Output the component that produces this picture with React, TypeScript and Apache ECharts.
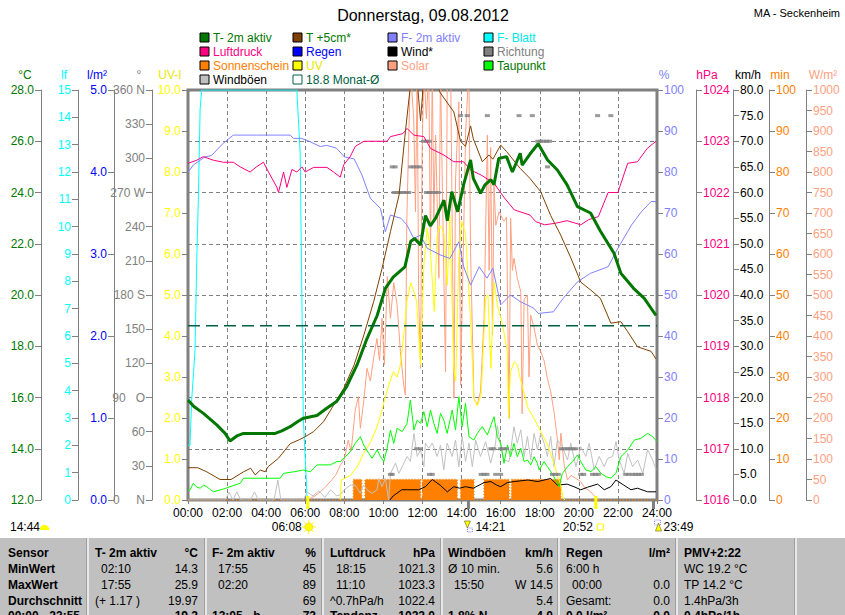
import React, { useEffect, useRef } from "react";
import * as echarts from "echarts";

const FONT = '"Liberation Sans", Arial, Helvetica, sans-serif';

// ---------------- data: [hour of day, value] ----------------
const t2m = [
  [0, 15.9], [0.3, 15.65], [0.79, 15.38], [1.47, 14.93], [1.9, 14.6], [2.15, 14.3], [2.5, 14.5], [2.84, 14.6],
  [3.5, 14.6], [4.46, 14.6], [4.8, 14.7], [5.23, 14.86], [5.6, 15.05], [5.9, 15.19], [6.6, 15.3], [7.1, 15.58],
  [7.6, 15.84], [8.1, 16.4], [8.65, 17.27], [9.16, 18.3], [9.68, 19.2], [10.1, 20.26], [10.5, 20.7], [11.1, 21.1],
  [11.4, 22.1], [11.6, 22.2], [11.9, 21.95], [12.15, 23.1], [12.4, 22.7], [12.67, 23.0], [13.1, 23.7], [13.27, 22.9],
  [13.5, 24.03], [13.8, 23.25], [14.1, 24.3], [14.46, 25.27], [14.6, 24.55], [14.97, 23.97], [15.2, 24.3],
  [15.5, 24.5], [15.66, 24.3], [15.9, 25.33], [16.3, 25.4], [16.6, 24.8], [17.0, 25.53], [17.1, 25.07],
  [17.5, 25.5], [17.92, 25.9], [18.4, 25.27], [18.9, 24.88], [19.4, 24.3], [19.93, 23.45], [20.6, 23.2],
  [21.1, 22.5], [21.8, 21.63], [22.15, 20.85], [22.8, 20.26], [23.35, 19.87], [23.95, 19.2],
];

const t5cm = [
  [0, 13.26], [0.5, 13.26], [0.96, 13.1], [1.64, 12.8], [2.2, 12.8], [2.84, 13.1], [3.2, 13.24], [3.44, 12.98],
  [3.7, 13.17], [3.95, 13.1], [4.1, 13.3], [4.63, 13.63], [5.23, 14.2], [5.66, 14.34], [6.0, 14.47], [6.43, 14.67],
  [6.94, 15.06], [7.45, 15.7], [7.97, 16.36], [8.5, 17.27], [9.0, 18.44], [9.5, 19.74], [9.93, 21.04],
  [10.36, 22.47], [10.8, 23.9], [11.1, 26.2], [11.4, 28.3], [11.7, 28.6], [11.9, 26.8], [12.1, 28.8], [12.4, 29.0],
  [12.6, 28.6], [12.9, 27.9], [13.6, 27.15], [13.95, 26.0], [14.2, 25.8], [14.46, 26.6], [14.6, 26.1],
  [15.06, 25.2], [15.4, 25.46], [15.6, 25.3], [16.0, 25.85], [16.3, 25.6], [17.0, 24.94], [17.5, 24.55],
  [18.05, 24.03], [18.56, 23.1], [19.07, 22.34], [19.6, 21.43], [20.1, 20.5], [20.6, 20.2], [21.1, 19.87],
  [21.64, 18.9], [22.15, 18.96], [22.5, 18.57], [23.0, 17.98], [23.7, 17.8], [23.95, 17.5],
];

const humidity = [
  [0, 79.9], [0.27, 81.7], [0.87, 83.7], [1.2, 84], [1.8, 87], [2.32, 89], [3.5, 89], [5.23, 89], [5.4, 88.2],
  [5.8, 88.2], [6.2, 87.5], [6.5, 86.8], [6.77, 86.2], [7.1, 86.5], [7.6, 85.8], [8.0, 83.7], [8.5, 83.2],
  [8.9, 79.3], [9.33, 73.6], [9.85, 71.1], [10.1, 65.4], [10.36, 69.5], [10.9, 68.7], [11.2, 67.1], [11.55, 63.8],
  [11.9, 64.6], [12.24, 61.4], [12.9, 59.8], [13.4, 58.9], [13.86, 63], [14.1, 57], [14.46, 52.4], [14.9, 56.9],
  [15.3, 54.1], [15.6, 56.5], [16.0, 47.6], [16.5, 50], [17.0, 48.4], [17.7, 46.75], [17.92, 45.5], [18.7, 45.9],
  [19.2, 49.2], [19.93, 53.2], [20.6, 55.3], [21.5, 56.9], [22.0, 61.4], [22.7, 67.1], [23.2, 70.3], [23.7, 72.8],
  [23.95, 72.8],
];

const leafWet = [
  [0, 2.0], [0.1, 2.0], [0.19, 3.66], [0.36, 5.5], [0.45, 8.8], [0.53, 11], [0.62, 14.3], [0.7, 15],
  [5.57, 15], [5.74, 12.7], [5.9, 3], [6.1, 0],
];

const pressure = [
  [0, 1022.57], [0.45, 1022.63], [0.78, 1022.7], [1.3, 1022.63], [1.81, 1022.59], [2.32, 1022.59], [2.67, 1022.5],
  [3.18, 1022.4], [3.5, 1022.5], [3.86, 1022.59], [4.12, 1022.4], [4.55, 1022.1], [4.63, 1022.0], [4.89, 1022.4],
  [5.06, 1022.1], [5.32, 1022.45], [5.57, 1022.4], [5.83, 1022.5], [6.0, 1022.4], [6.43, 1022.49], [7.11, 1022.49],
  [7.45, 1022.4], [7.79, 1022.3], [7.97, 1022.54], [8.3, 1022.7], [8.56, 1022.9], [9.0, 1023.0], [10.19, 1023.0],
  [10.36, 1023.09], [11.0, 1023.15], [11.21, 1023.25], [11.55, 1023.12], [12.07, 1023.09], [12.41, 1022.86],
  [13.1, 1022.73], [13.6, 1022.6], [14.1, 1022.6], [14.46, 1022.44], [15.0, 1022.34], [15.66, 1022.18],
  [16.2, 1021.89], [16.7, 1021.66], [17.5, 1021.56], [17.8, 1021.43], [18.25, 1021.37], [18.8, 1021.4],
  [19.4, 1021.45], [20.1, 1021.37], [20.5, 1021.47], [21.0, 1021.53], [21.5, 1022.0], [22.0, 1022.0],
  [22.5, 1022.57], [23.0, 1022.6], [23.5, 1022.86], [23.95, 1023.0],
];

const dewPoint = [
  [0, 12.39], [0.1, 12.39], [0.27, 12.65], [0.45, 12.5], [0.62, 12.46], [0.8, 12.58], [0.96, 12.52], [1.15, 12.4],
  [1.3, 12.32], [1.64, 12.39], [1.9, 12.45], [2.15, 12.52], [2.67, 12.65], [2.84, 12.85], [4.72, 12.85],
  [4.89, 13.04], [5.4, 13.1], [5.91, 13.17], [6.26, 13.1], [6.6, 13.37], [7.28, 13.37], [7.62, 13.5],
  [7.79, 13.5], [8.05, 13.69], [8.31, 13.89], [8.56, 14.21], [8.82, 14.47], [8.99, 14.15], [9.25, 13.82],
  [9.42, 13.63], [9.68, 13.95], [9.85, 13.69], [10.02, 13.5], [10.19, 14.02], [10.36, 14.73], [10.53, 14.21],
  [10.7, 14.8], [10.96, 14.67], [11.21, 14.99], [11.38, 15.9], [11.56, 14.73], [11.73, 15.12], [11.9, 14.99],
  [12.07, 15.45], [12.24, 14.86], [12.41, 15.51], [12.58, 14.99], [12.75, 14.6], [12.92, 15.38], [13.09, 15.12],
  [13.26, 14.6], [13.52, 15.51], [13.69, 14.73], [13.86, 16.03], [14.03, 14.86], [14.2, 15.77], [14.38, 14.47],
  [14.63, 14.34], [14.8, 14.6], [15.06, 14.86], [15.32, 14.54], [15.66, 15.25], [15.83, 14.47], [16.0, 14.21],
  [16.17, 13.43], [16.35, 14.15], [16.51, 13.69], [16.68, 14.21], [16.85, 13.69], [17.03, 14.02], [17.2, 13.5],
  [17.37, 13.56], [17.54, 13.37], [17.71, 13.69], [17.88, 13.43], [17.97, 13.17], [18.22, 13.5], [18.39, 13.3],
  [18.56, 13.11], [18.82, 12.78], [18.99, 12.52], [19.16, 13.04], [19.42, 13.3], [19.68, 13.5], [19.93, 13.76],
  [20.1, 13.5], [20.36, 13.17], [20.62, 13.11], [20.87, 13.3], [21.13, 13.04], [21.39, 12.91], [21.64, 12.85],
  [21.9, 13.04], [22.15, 13.69], [22.5, 13.95], [22.84, 14.34], [23.18, 14.41], [23.52, 14.6], [23.78, 14.47],
  [24.0, 14.28],
];

const gusts = [
  [0, 0], [1.9, 0], [2.1, 1.5], [2.3, 0], [2.5, 1.6], [2.7, 0], [3.2, 0], [3.4, 1.6], [3.6, 0], [4.4, 0], [4.6, 3.9],
  [4.75, 0], [5.9, 0], [6.1, 1.5], [6.4, 0.8], [6.7, 1.8], [7.0, 0.5], [7.3, 2.0], [7.6, 0.8], [7.79, 1.0],
  [8.0, 2.0], [8.31, 2.9], [8.56, 2.9], [8.82, 1.3], [8.99, 2.9], [9.16, 2.0], [9.42, 1.3], [9.68, 2.0],
  [9.76, 4.2], [9.93, 2.6], [10.1, 4.2], [10.27, 0], [10.36, 5.2], [10.62, 7.2], [10.79, 5.2], [10.96, 6.5],
  [11.21, 8.5], [11.38, 7.5], [11.56, 13.0], [11.73, 8.5], [11.9, 9.8], [12.07, 6.5], [12.15, 11.1],
  [12.32, 10.1], [12.5, 11.1], [12.75, 8.5], [12.92, 10.7], [13.09, 5.9], [13.26, 11.1], [13.52, 8.5],
  [13.69, 11.7], [13.86, 6.5], [14.03, 12.4], [14.2, 7.5], [14.38, 11.1], [14.55, 6.5], [14.72, 11.7],
  [14.97, 8.5], [15.23, 11.4], [15.49, 7.2], [15.74, 11.1], [15.83, 14.5], [16.0, 10.7], [16.17, 7.8],
  [16.43, 7.5], [16.68, 14.3], [16.85, 11.1], [17.03, 13.7], [17.2, 8.5], [17.37, 12.4], [17.54, 7.8],
  [17.71, 13.0], [17.88, 9.8], [18.05, 13.0], [18.22, 11.1], [18.39, 8.5], [18.56, 12.4], [18.73, 6.5],
  [18.9, 11.7], [19.16, 10.4], [19.42, 7.8], [19.59, 11.1], [19.85, 6.5], [20.1, 10.4], [20.36, 8.5],
  [20.53, 11.1], [20.79, 5.9], [21.04, 8.5], [21.3, 6.5], [21.47, 8.1], [21.73, 8.5], [21.9, 11.4], [22.07, 7.8],
  [22.32, 5.2], [22.5, 9.1], [22.75, 6.5], [23.01, 7.8], [23.27, 5.2], [23.52, 9.8], [23.78, 7.8], [23.95, 5.9],
];

const wind = [
  [10.33, 0], [10.5, 0.8], [10.94, 2.0], [11.8, 2.0], [12.15, 2.6], [12.5, 4.0], [12.9, 2.9], [13.27, 1.6],
  [13.6, 2.6], [13.9, 2.3], [14.2, 2.6], [14.6, 2.3], [15.15, 3.4], [15.5, 3.6], [15.8, 2.9], [16.0, 2.6],
  [16.35, 3.4], [16.7, 3.6], [17.4, 3.9], [17.9, 3.6], [18.56, 4.2], [18.9, 2.9], [19.4, 3.1], [19.75, 2.6],
  [20.1, 2.0], [20.45, 2.5], [20.96, 3.1], [21.3, 2.0], [21.64, 2.6], [21.9, 3.9], [22.3, 2.9], [22.67, 2.0],
  [23.0, 2.3], [23.52, 1.6], [23.95, 1.6],
];

const uvIndex = [
  [7.79, 0], [7.85, 0.49], [8.31, 0.6], [8.65, 0.8], [8.99, 1.14], [9.33, 1.4], [9.68, 1.79], [9.93, 2.2],
  [10.1, 2.52], [10.27, 2.8], [10.5, 3.13], [10.7, 3.0], [10.87, 3.29], [11.04, 4.02], [11.2, 4.84], [11.4, 5.3],
  [11.55, 5.1], [11.7, 4.84], [11.9, 3.29], [12.07, 5.73], [12.24, 6.63], [12.4, 6.1], [12.6, 4.6], [12.75, 6.46],
  [12.9, 6.7], [13.1, 6.5], [13.27, 5.24], [13.4, 6.95], [13.6, 3.2], [13.7, 2.9], [13.86, 5.9], [14.0, 6.8],
  [14.2, 6.5], [14.46, 4.4], [14.63, 2.48], [14.8, 2.3], [15.0, 2.56], [15.23, 4.92], [15.35, 5.0], [15.5, 3.21],
  [15.66, 5.32], [15.83, 4.76], [16.1, 4.27], [16.34, 3.62], [16.4, 2.0], [16.5, 3.13], [16.7, 3.37],
  [16.85, 3.3], [17.0, 2.97], [17.2, 2.6], [17.4, 2.24], [17.7, 1.99], [18.05, 1.67], [18.4, 1.34], [18.7, 0.93],
  [18.9, 0.6], [19.07, 0.37], [19.2, 0.04], [19.3, 0],
];

const solar = [
  [6.1, 0], [6.5, 10], [6.77, 20], [7.0, 30], [7.28, 45], [7.55, 60], [7.8, 85], [8.0, 100], [8.2, 146],
  [8.35, 120], [8.56, 220], [8.72, 252], [8.82, 175], [8.99, 240], [9.16, 321], [9.33, 290], [9.5, 346],
  [9.67, 394], [9.8, 340], [9.93, 443], [10.05, 330], [10.2, 545], [10.36, 443], [10.53, 530], [10.7, 476],
  [10.87, 362], [11.04, 280], [11.12, 256], [11.2, 687], [11.38, 1050], [11.55, 931], [11.64, 703],
  [11.73, 1050], [11.8, 508], [11.9, 321], [11.98, 850], [12.07, 1050], [12.2, 930], [12.32, 1050],
  [12.41, 600], [12.5, 1050], [12.58, 687], [12.67, 890], [12.84, 541], [12.92, 1050], [13.1, 524],
  [13.18, 313], [13.27, 1050], [13.44, 1050], [13.61, 248], [13.69, 780], [13.86, 971], [13.95, 280],
  [14.21, 900], [14.37, 1050], [14.46, 606], [14.63, 248], [14.8, 232], [14.97, 264], [15.15, 443],
  [15.32, 890], [15.41, 560], [15.49, 860], [15.58, 402], [15.66, 768], [15.75, 670], [15.92, 703],
  [16.08, 687], [16.17, 680], [16.3, 690], [16.43, 199], [16.51, 687], [16.6, 560], [16.68, 590], [16.85, 541],
  [17.03, 508], [17.1, 210], [17.2, 490], [17.37, 500], [17.45, 300], [17.54, 451], [17.71, 420], [17.88, 378],
  [18.05, 362], [18.22, 340], [18.39, 297], [18.56, 264], [18.73, 215], [18.9, 150], [19.0, 98], [19.08, 163],
  [19.25, 85], [19.42, 49], [19.6, 60], [20.1, 45], [20.27, 32], [20.6, 20], [21.0, 0],
];

const rain = [[0, 0], [24, 0]];

// sunshine: minutes of sun per 5-minute interval, given as sunny runs [start hour, end hour]
const sunshineRuns = [[8.46, 8.89], [9.06, 11.9], [12.0, 13.78], [13.95, 14.63], [15.15, 16.43], [16.55, 19.08]];
const sunshineMinutes = 5;

const windDir = [
  [10.36, 22.5], [10.45, 22.5], [10.45, 292.5], [10.6, 292.5], [10.55, 270], [10.7, 270], [10.85, 270],
  [11.0, 270], [11.15, 270], [11.3, 270], [11.4, 292.5], [11.55, 292.5], [11.7, 292.5], [11.85, 292.5],
  [11.7, 45], [11.9, 45], [12.05, 315], [12.2, 315], [12.35, 315], [12.2, 270], [12.35, 270], [12.5, 270],
  [12.65, 270], [12.8, 270], [12.35, 22.5], [12.5, 22.5], [13.95, 337.5], [14.1, 270], [14.29, 337.5],
  [15.0, 22.5], [15.15, 22.5], [15.3, 22.5], [15.32, 337.5], [15.5, 45], [15.65, 45], [15.75, 22.5], [16.0, 45],
  [16.15, 45], [16.3, 45], [16.0, 22.5], [16.94, 337.5], [17.62, 337.5], [17.9, 315], [18.05, 315], [18.2, 315],
  [18.35, 315], [18.5, 315], [18.4, 292.5], [18.65, 22.5], [18.8, 22.5], [18.95, 22.5], [19.1, 45], [19.25, 45],
  [19.4, 45], [19.55, 45], [19.7, 45], [19.85, 45], [20.1, 22.5], [20.25, 22.5], [20.96, 337.5], [20.7, 22.5],
  [20.85, 22.5], [21.0, 22.5], [21.64, 337.5], [22.4, 22.5], [22.55, 22.5], [22.75, 22.5], [22.9, 22.5],
  [23.05, 22.5], [23.2, 22.5],
];

const monthAvg = 18.8;

const dirLabels: Record<number, string> = {
  360: "360 N", 270: "270 W", 180: "180 S", 90: "90\u00a0\u00a0\u00a0O", 0: "0\u00a0\u00a0\u00a0\u00a0\u00a0N",
};

const astroEvents = [
  { text: "06:08", hour: 6.13, kind: "sunrise" },
  { text: "14:21", hour: 14.35, kind: "moonset" },
  { text: "20:52", hour: 20.87, kind: "sunset" },
  { text: "23:49", hour: 23.82, kind: "moonrise" },
];
const moonPhaseText = "14:44";

const legendItems = [
  { name: "T- 2m aktiv", color: "#007800", text: "#007800" },
  { name: "T +5cm*", color: "#804000", text: "#007800" },
  { name: "F- 2m aktiv", color: "#8080ff", text: "#8080ff" },
  { name: "F- Blatt", color: "#00ffff", text: "#00e8e8" },
  { name: "Luftdruck", color: "#ff0080", text: "#ff0080" },
  { name: "Regen", color: "#0000ff", text: "#0000ff" },
  { name: "Wind*", color: "#000000", text: "#000000" },
  { name: "Richtung", color: "#808080", text: "#808080" },
  { name: "Sonnenschein", color: "#ff8000", text: "#ff8000" },
  { name: "UV", color: "#ffff00", text: "#e8e800" },
  { name: "Solar", color: "#ffa080", text: "#ffa080" },
  { name: "Taupunkt", color: "#00ff00", text: "#007800" },
  { name: "Windböen", color: "#c0c0c0", text: "#000000" },
  { name: "18.8 Monat-Ø", color: "", text: "#006040" },
];

const axisNames = [
  { t: "°C", c: "#007800" }, { t: "lf", c: "#00ffff" }, { t: "l/m²", c: "#0000ff" }, { t: "°", c: "#808080" },
  { t: "UV-I", c: "#e8e800" }, { t: "%", c: "#8080ff" }, { t: "hPa", c: "#ff0080" }, { t: "km/h", c: "#000000" },
  { t: "min", c: "#ff8000" }, { t: "W/m²", c: "#ffa080" },
];

const tableHeaders = ["Sensor", "T- 2m aktiv", "F- 2m aktiv", "Luftdruck", "Windböen", "Regen", "PMV+2:22"];
const tableUnits = ["", "°C", "%", "hPa", "km/h", "l/m²", ""];
const tableRowLabels = ["MinWert", "MaxWert", "Durchschnitt", "00:00 - 23:55"];
const tableLeft = [
  [],
  ["02:10", "17:55", "(+ 1.17 )", ""],
  ["17:55", "02:20", "", "13:05 - h"],
  ["18:15", "11:10", "^0.7hPa/h", "Tendenz"],
  ["Ø 10 min.", "15:50", "", "1.8% N"],
  ["6:00 h", "00:00", "Gesamt:", "0.0 l/m²"],
  ["WC 19.2 °C", "TP 14.2 °C", "1.4hPa/3h", "0.4hPa/1h"],
];
const tableRight = [
  [],
  ["14.3", "25.9", "19.97", "19.2"],
  ["45", "89", "69", "72"],
  ["1021.3", "1023.3", "1022.4", "1022.0"],
  ["5.6", "W 14.5", "5.4", "4.0"],
  ["", "0.0", "0.0", "0.0"],
  [],
];

// ---------------- layout constants ----------------
const colLeftX = [8, 95, 212, 330, 448, 566, 684];
const colRightX = [0, 198, 316, 435, 553, 670, 0];
const colSepX = [87, 205, 322, 441, 558, 676, 795];
const rowYs = [553, 569, 585, 600.5, 616];
const legendColX = [200, 293, 388, 484];
const legendRowY = [38, 52, 66, 80];
const axisNameX = [25, 64, 97, 139, 170, 664, 707, 748, 780, 823];

const pad2 = (n: number) => (n < 10 ? "0" : "") + n;

function txt(text: string, x: number, y: number, fill: string, size = 12, align = "left", bold = false) {
  const font = `${bold ? "bold " : ""}${size}px ${FONT}`;
  return {
    type: "text",
    silent: true,
    style: {
      text, x, y, fill, font,
      align, verticalAlign: "middle",
      textAlign: align, textVerticalAlign: "middle",
    },
    z: 100,
  };
}

function buildOption() {
  const yDefs = [
    { pos: "left", offset: 147, min: 12, max: 28, interval: 2, color: "#007800", fmt: (v: number) => v.toFixed(1), split: true },
    { pos: "left", offset: 110, min: 0, max: 15, interval: 1, color: "#00ffff", fmt: (v: number) => String(v) },
    { pos: "left", offset: 74, min: 0, max: 5, interval: 1, color: "#0000ff", fmt: (v: number) => v.toFixed(1) },
    { pos: "left", offset: 36, min: 0, max: 360, interval: 30, color: "#808080", fmt: (v: number) => dirLabels[v] ?? String(v) },
    { pos: "left", offset: 0, min: 0, max: 10, interval: 1, color: "#ffff00", fmt: (v: number) => v.toFixed(1) },
    { pos: "right", offset: 0, min: 0, max: 100, interval: 10, color: "#8080ff", fmt: (v: number) => String(v) },
    { pos: "right", offset: 39, min: 1016, max: 1024, interval: 1, color: "#ff0080", fmt: (v: number) => String(v) },
    { pos: "right", offset: 76, min: 0, max: 80, interval: 5, color: "#000000", fmt: (v: number) => v.toFixed(1) },
    { pos: "right", offset: 112, min: 0, max: 100, interval: 10, color: "#ff8000", fmt: (v: number) => String(v) },
    { pos: "right", offset: 149, min: 0, max: 1000, interval: 50, color: "#ffa080", fmt: (v: number) => String(v) },
  ];
  const yAxis = yDefs.map((d) => ({
    type: "value",
    position: d.pos,
    offset: d.offset,
    min: d.min,
    max: d.max,
    interval: d.interval,
    axisLine: { show: true, onZero: false, lineStyle: { color: "#808080", width: 1 } },
    axisTick: { show: true, length: 6, lineStyle: { color: "#808080" } },
    axisLabel: { color: d.color, fontSize: 12, fontFamily: FONT, margin: 7, formatter: d.fmt },
    splitLine: { show: !!d.split, lineStyle: { color: "#808080", type: [4, 3], width: 1 } },
  }));

  const sunshine: number[][] = [[0, 0]];
  sunshineRuns.forEach(([s, e]) => {
    sunshine.push([s, 0], [s, sunshineMinutes], [e, sunshineMinutes], [e, 0]);
  });
  sunshine.push([24, 0]);

  const line = (name: string, data: number[][], yAxisIndex: number, color: string, width: number, z: number, extra: any = {}) => ({
    type: "line", name, data, yAxisIndex, symbol: "none", showSymbol: false, silent: true,
    lineStyle: { color, width }, itemStyle: { color }, z, ...extra,
  });

  const series = [
    line("Regen", rain, 2, "#0000ff", 1, 0.5),
    line("F- Blatt", leafWet, 1, "#00ffff", 1, 2),
    line("Sonnenschein", sunshine, 8, "#ff8000", 1, 2.1, {
      lineStyle: { color: "#ff8000", width: 1.5, type: [1, 2] },
      areaStyle: { color: "#ff8000", opacity: 1 },
    }),
    line("Solar", solar, 9, "#ffa080", 1, 2.2),
    line("Windböen", gusts, 7, "#c0c0c0", 1, 2.3),
    line("Wind*", wind, 7, "#000000", 1, 2.4),
    line("UV", uvIndex, 4, "#ffff00", 1, 2.5),
    line("Taupunkt", dewPoint, 0, "#00ff00", 1, 2.6),
    {
      type: "scatter", name: "Richtung", data: windDir, yAxisIndex: 3, symbol: "rect", symbolSize: [5, 3],
      itemStyle: { color: "#808080" }, silent: true, z: 2.7,
    },
    line("F- 2m aktiv", humidity, 5, "#8080ff", 1, 2.8),
    line("Luftdruck", pressure, 6, "#ff0080", 1, 2.9),
    line("T +5cm*", t5cm, 0, "#804000", 1, 3),
    line("T- 2m aktiv", t2m, 0, "#007800", 3, 3.1),
    line("Monat-Ø", [[0, monthAvg], [24, monthAvg]], 0, "#006040", 1.5, 3.2, {
      lineStyle: { color: "#006040", width: 1.5, type: [12, 6] },
    }),
  ];

  return {
    animation: false,
    backgroundColor: "#ffffff",
    grid: { left: 188, right: 188, top: 90, bottom: 115, show: true, borderColor: "#808080", borderWidth: 3, containLabel: false },
    xAxis: {
      type: "value", min: 0, max: 24, interval: 2, z: 1,
      axisLine: { show: true, onZero: false, lineStyle: { color: "#808080", width: 2 } },
      axisTick: { show: true, length: 4, lineStyle: { color: "#808080" } },
      axisLabel: { color: "#000000", fontSize: 12, fontFamily: FONT, margin: 7, formatter: (v: number) => pad2(v) + ":00" },
      splitLine: { show: true, lineStyle: { color: "#808080", type: [4, 3], width: 1 } },
    },
    yAxis,
    series,
  };
}

function staticGraphics() {
  const els: any[] = [];
  // title
  els.push(txt("Donnerstag, 09.08.2012", 423, 15, "#000000", 16, "center"));
  els.push(txt("MA - Seckenheim", 840, 13, "#000000", 11, "right"));
  // legend
  legendItems.forEach((it, i) => {
    const x = legendColX[i % 4];
    const y = legendRowY[Math.floor(i / 4)];
    els.push({
      type: "rect", silent: true, z: 100,
      shape: { x: x, y: y - 5, width: 9, height: 9 },
      style: it.color ? { fill: it.color, stroke: "#000000", lineWidth: 1 } : { fill: "#ffffff", stroke: it.text, lineWidth: 1 },
    });
    els.push(txt(it.name, x + 13, y, it.text, 12, "left"));
  });
  // axis names
  axisNames.forEach((a, i) => els.push(txt(a.t, axisNameX[i], 75, a.c, 12, "center")));
  // table
  els.push({ type: "rect", silent: true, z: 90, shape: { x: 0, y: 538, width: 845, height: 80 }, style: { fill: "#c0c0c0" } });
  colSepX.forEach((x) => {
    els.push({ type: "rect", silent: true, z: 91, shape: { x: x, y: 538, width: 2, height: 80 }, style: { fill: "#e8e8e8" } });
    els.push({ type: "rect", silent: true, z: 91, shape: { x: x - 1, y: 538, width: 1, height: 80 }, style: { fill: "#a0a0a0" } });
  });
  tableHeaders.forEach((h, c) => {
    els.push(txt(h, colLeftX[c], rowYs[0], "#000000", 12, "left", true));
    if (tableUnits[c]) els.push(txt(tableUnits[c], colRightX[c], rowYs[0], "#000000", 12, "right", true));
  });
  tableRowLabels.forEach((l, r) => els.push(txt(l, colLeftX[0], rowYs[r + 1], "#000000", 12, "left", true)));
  for (let c = 1; c < tableHeaders.length; c++) {
    tableLeft[c].forEach((v, r) => {
      if (!v) return;
      const indent = /^\d\d:\d\d$/.test(v) ? 6 : 0;
      els.push(txt(v, colLeftX[c] + indent, rowYs[r + 1], "#000000", 12, "left", r === 3));
    });
    tableRight[c].forEach((v, r) => {
      if (!v) return;
      els.push(txt(v, colRightX[c], rowYs[r + 1], "#000000", 12, "right", r === 3));
    });
  }
  // moon phase marker at the far left
  els.push(txt(moonPhaseText, 10, 527, "#000000", 12, "left"));
  els.push({
    type: "sector", silent: true, z: 100,
    shape: { cx: 44.5, cy: 530, r: 5, r0: 0, startAngle: Math.PI, endAngle: Math.PI * 2 },
    style: { fill: "#ffff00" },
  });
  return els;
}

function astroGraphics(chart: any) {
  const els: any[] = [];
  const yBase = chart.convertToPixel({ yAxisIndex: 0 }, 12) as number;
  astroEvents.forEach((ev) => {
    const px = chart.convertToPixel({ xAxisIndex: 0 }, ev.hour) as number;
    const isSun = ev.kind === "sunrise" || ev.kind === "sunset";
    els.push({
      type: "line", silent: true, z: 100,
      shape: { x1: px, y1: isSun ? yBase - 4 : yBase, x2: px, y2: yBase + 9 },
      style: { stroke: isSun ? "#ffff00" : "#808080", lineWidth: 3 },
    });
    const cy = 527;
    if (ev.kind === "sunrise") {
      els.push(txt(ev.text, px - 6, cy, "#000000", 12, "right"));
      const cx = px + 1;
      for (let k = 0; k < 8; k++) {
        const a = (k * Math.PI) / 4;
        els.push({
          type: "line", silent: true, z: 100,
          shape: { x1: cx + Math.cos(a) * 4, y1: cy + Math.sin(a) * 4, x2: cx + Math.cos(a) * 7, y2: cy + Math.sin(a) * 7 },
          style: { stroke: "#ffff00", lineWidth: 1 },
        });
      }
      els.push({ type: "circle", silent: true, z: 101, shape: { cx, cy, r: 4 }, style: { fill: "#ffff00", stroke: "#e0c000", lineWidth: 0.5 } });
    } else if (ev.kind === "sunset") {
      els.push(txt(ev.text, px - 3, cy, "#000000", 12, "right"));
      els.push({ type: "rect", silent: true, z: 100, shape: { x: px + 1.5, y: cy - 3, width: 6, height: 6 }, style: { fill: "#ffffff", stroke: "#ffff00", lineWidth: 1 } });
    } else if (ev.kind === "moonset") {
      els.push(txt(ev.text, px + 7, cy, "#000000", 12, "left"));
      els.push({ type: "polygon", silent: true, z: 101, shape: { points: [[px - 4, cy - 6], [px + 2, cy - 6], [px - 1, cy + 1]] }, style: { fill: "#ffff00", stroke: "#404000", lineWidth: 0.5 } });
      els.push({ type: "rect", silent: true, z: 100, shape: { x: px - 1, y: cy + 1, width: 5, height: 4 }, style: { fill: "none", stroke: "#8080ff", lineWidth: 1, lineDash: [1, 1] } });
    } else {
      els.push(txt(ev.text, px + 10, cy, "#000000", 12, "left"));
      els.push({ type: "rect", silent: true, z: 100, shape: { x: px + 1, y: cy - 7, width: 6, height: 5 }, style: { fill: "none", stroke: "#8080ff", lineWidth: 1, lineDash: [1, 1] } });
      els.push({ type: "polygon", silent: true, z: 101, shape: { points: [[px + 5, cy - 4], [px + 8, cy + 4], [px + 2, cy + 4]] }, style: { fill: "#ffff00", stroke: "#404000", lineWidth: 0.5 } });
    }
  });
  return els;
}

export default function App() {
  const ref = useRef<HTMLDivElement>(null);
  useEffect(() => {
    if (!ref.current) return;
    const chart = echarts.init(ref.current, null, { renderer: "svg" });
    chart.setOption(buildOption() as any);
    const graphics = [...staticGraphics(), ...astroGraphics(chart)];
    chart.setOption({ graphic: { elements: graphics } } as any);
    return () => chart.dispose();
  }, []);
  return (
    <div
      ref={ref}
      style={{ position: "absolute", left: 0, top: 0, width: 845, height: 615, background: "#ffffff" }}
    />
  );
}
